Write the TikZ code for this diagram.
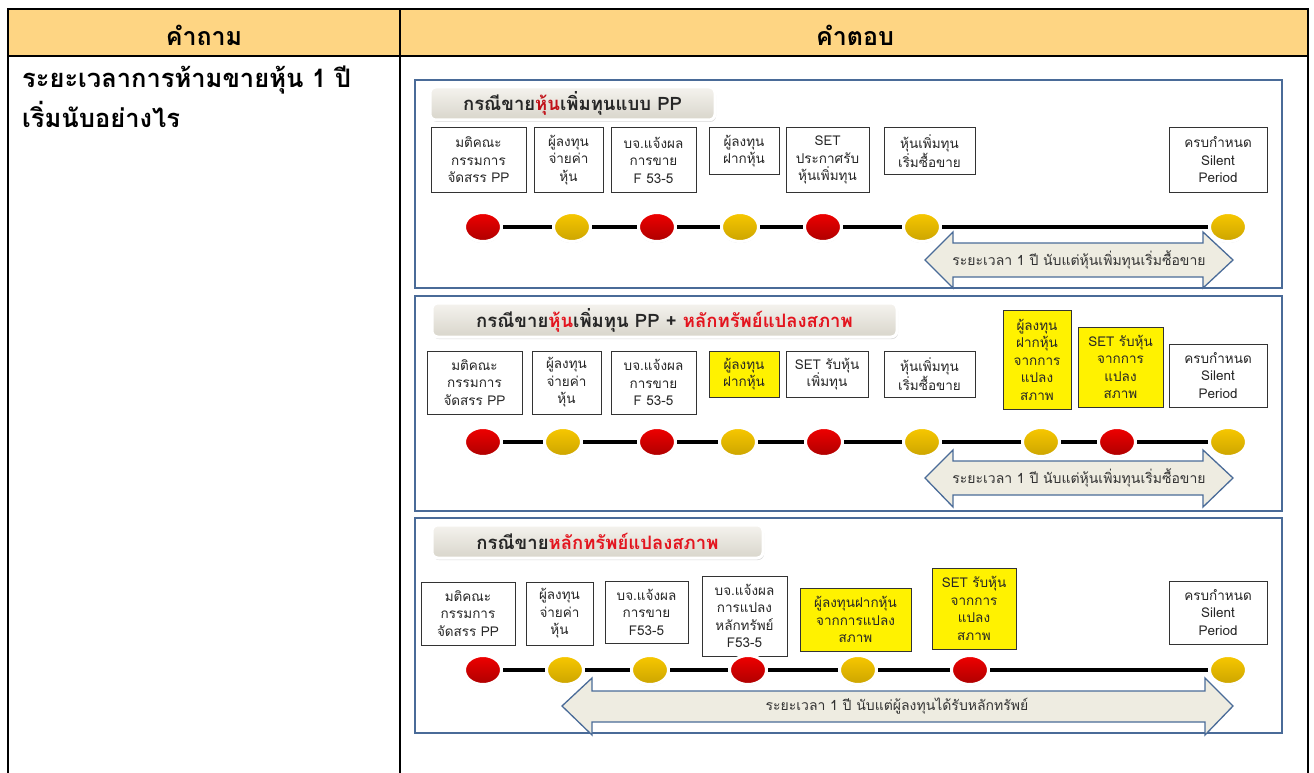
\documentclass[tikz,border=0pt]{standalone}
\usepackage{fontspec}
\setmainfont[Script=Thai]{Loma}
\usetikzlibrary{shapes.geometric,shadows}
\definecolor{hdrfill}{HTML}{FED583}
\definecolor{pnlblue}{HTML}{4A6B98}
\definecolor{ttlred}{HTML}{E3141E}
\definecolor{dotred}{HTML}{F00000}
\definecolor{dotyel}{HTML}{F8C800}
\definecolor{spanfill}{HTML}{EEECE1}
\definecolor{ttltop}{HTML}{F5F3EE}
\definecolor{ttlbot}{HTML}{D8D5CB}
\tikzset{
	tbox/.style={draw=black!80,line width=1pt,fill=white,align=center,inner sep=0pt,text=black!85,font=\fontsize{13.5}{17.5}\selectfont},
	ybox/.style={tbox,fill=yellow},
	tdot/.style={ellipse,minimum width=37,minimum height=29,inner sep=0pt,draw=white,line width=3pt,drop shadow={opacity=0.2,shadow xshift=0pt,shadow yshift=-1.5pt}},
	rdot/.style={tdot,top color=dotred,bottom color=dotred!72!black},
	ydot/.style={tdot,top color=dotyel,bottom color=dotyel!82!black},
	tline/.style={line width=4pt,black},
	ttl/.style={rounded corners=6pt,top color=ttltop,bottom color=ttlbot,draw=white,line width=3pt,drop shadow={opacity=0.3,shadow xshift=1pt,shadow yshift=-2pt},font=\bfseries\fontsize{18.5}{20}\selectfont,text=black!85},
	pnl/.style={draw=pnlblue,line width=2pt},
	sarrow/.style={draw=pnlblue,fill=spanfill,line width=1.3pt,line join=miter},
	stxt/.style={font=\fontsize{14}{16}\selectfont,text=black!80,inner sep=1pt},
	hdr/.style={font=\bfseries\fontsize{25}{28}\selectfont},
	qtxt/.style={anchor=base west,font=\bfseries\fontsize{25.5}{28}\selectfont,inner sep=0pt}
}
\begin{document}
\begin{tikzpicture}[x=1pt,y=-1pt]
	\useasboundingbox (0,0) rectangle (1314,773);
	% table
	\fill[hdrfill] (8,9) rectangle (1308,56);
	\draw[line width=2pt] (8,773) -- (8,9) -- (1308,9) -- (1308,773);
	\draw[line width=2pt] (8,56) -- (1308,56);
	\draw[line width=2pt] (400,9) -- (400,773);
	\node[hdr] (hq) at (204,35) {คำถาม};
	\node[hdr] (ha) at (855,35) {คำตอบ};
	\node[qtxt] (q1) at (22,88) {ระยะเวลาการห้ามขายหุ้น 1 ปี};
	\node[qtxt] (q2) at (22,128) {เริ่มนับอย่างไร};

	% panel 1
	\draw[pnl] (415,80) rectangle (1282,288);
	\node[ttl,minimum width=285,minimum height=33] (t1) at (572.5,103.5) {กรณีขาย\textcolor{ttlred!85!black}{หุ้น}เพิ่มทุนแบบ PP};
	\node[tbox,minimum width=95,minimum height=64] (pa1) at (478.5,160) {มติคณะ\\กรรมการ\\จัดสรร PP};
	\node[tbox,minimum width=69,minimum height=64] (pa2) at (568.5,160) {ผู้ลงทุน\\จ่ายค่า\\หุ้น};
	\node[tbox,minimum width=85,minimum height=64] (pa3) at (653.5,160) {บจ.แจ้งผล\\การขาย\\F 53-5};
	\node[tbox,minimum width=70,minimum height=46] (pa4) at (744,151) {ผู้ลงทุน\\ฝากหุ้น};
	\node[tbox,minimum width=83,minimum height=64] (pa5) at (827.5,160) {SET\\ประกาศรับ\\หุ้นเพิ่มทุน};
	\node[tbox,minimum width=91,minimum height=46] (pa6) at (929.5,151) {หุ้นเพิ่มทุน\\เริ่มซื้อขาย};
	\node[tbox,minimum width=98,minimum height=64] (pa7) at (1218,160) {ครบกำหนด\\Silent\\Period};
	\foreach \n/\x/\s in {1/483/rdot,2/572/ydot,3/657/rdot,4/740/ydot,5/823/rdot,6/922/ydot,7/1228/ydot}
		\node[\s] (da\n) at (\x,227) {};
	\foreach \i [count=\j from 2] in {1,...,6}
		\draw[tline] (da\i) -- (da\j);
	\draw[sarrow] (925,260) -- (953,232) -- (953,243) -- (1203,243) -- (1203,232) -- (1233,260)
		-- (1203,288) -- (1203,277) -- (953,277) -- (953,288) -- cycle;
	\node[stxt] (sa) at (1079,260) {ระยะเวลา 1 ปี นับแต่หุ้นเพิ่มทุนเริ่มซื้อขาย};

	% panel 2
	\draw[pnl] (415,296) rectangle (1282,511);
	\node[ttl,minimum width=465,minimum height=34] (t2) at (664.5,320) {กรณีขาย\textcolor{ttlred}{หุ้น}เพิ่มทุน PP + \textcolor{ttlred}{หลักทรัพย์แปลงสภาพ}};
	\node[tbox,minimum width=95,minimum height=63] (pb1) at (474.5,382.5) {มติคณะ\\กรรมการ\\จัดสรร PP};
	\node[tbox,minimum width=69,minimum height=63] (pb2) at (566.5,382.5) {ผู้ลงทุน\\จ่ายค่า\\หุ้น};
	\node[tbox,minimum width=85,minimum height=63] (pb3) at (653.5,382.5) {บจ.แจ้งผล\\การขาย\\F 53-5};
	\node[ybox,minimum width=70,minimum height=46] (pb4) at (744,374) {ผู้ลงทุน\\ฝากหุ้น};
	\node[tbox,minimum width=82,minimum height=46] (pb5) at (827,374) {SET รับหุ้น\\เพิ่มทุน};
	\node[tbox,minimum width=91,minimum height=46] (pb6) at (929.5,374) {หุ้นเพิ่มทุน\\เริ่มซื้อขาย};
	\node[ybox,minimum width=68,minimum height=99] (pb7) at (1037,359.5) {ผู้ลงทุน\\ฝากหุ้น\\จากการ\\แปลง\\สภาพ};
	\node[ybox,minimum width=85,minimum height=80] (pb8) at (1120.5,367) {SET รับหุ้น\\จากการ\\แปลง\\สภาพ};
	\node[tbox,minimum width=98,minimum height=63] (pb9) at (1218,375.5) {ครบกำหนด\\Silent\\Period};
	\foreach \n/\x/\s in {1/483/rdot,2/563/ydot,3/657/rdot,4/738/ydot,5/824/rdot,6/922/ydot,7/1041/ydot,8/1117/rdot,9/1228/ydot}
		\node[\s] (db\n) at (\x,442) {};
	\foreach \i [count=\j from 2] in {1,...,8}
		\draw[tline] (db\i) -- (db\j);
	\draw[sarrow] (925,478) -- (953,450) -- (953,461) -- (1203,461) -- (1203,450) -- (1233,478)
		-- (1203,507) -- (1203,495) -- (953,495) -- (953,507) -- cycle;
	\node[stxt] (sb) at (1079,478) {ระยะเวลา 1 ปี นับแต่หุ้นเพิ่มทุนเริ่มซื้อขาย};

	% panel 3
	\draw[pnl] (415,518) rectangle (1282,733);
	\node[ttl,minimum width=331,minimum height=33] (t3) at (597.5,541.5) {กรณีขาย\textcolor{ttlred}{หลักทรัพย์แปลงสภาพ}};
	\node[tbox,minimum width=94,minimum height=63] (pc1) at (468,613.5) {มติคณะ\\กรรมการ\\จัดสรร PP};
	\node[tbox,minimum width=67,minimum height=63] (pc2) at (559.5,613.5) {ผู้ลงทุน\\จ่ายค่า\\หุ้น};
	\node[tbox,minimum width=83,minimum height=62] (pc3) at (646.5,612) {บจ.แจ้งผล\\การขาย\\F53-5};
	\node[tbox,minimum width=85,minimum height=80] (pc4) at (744.5,616) {บจ.แจ้งผล\\การแปลง\\หลักทรัพย์\\F53-5};
	\node[ybox,minimum width=111,minimum height=63] (pc5) at (855.5,619.5) {ผู้ลงทุนฝากหุ้น\\จากการแปลง\\สภาพ};
	\node[ybox,minimum width=84,minimum height=81] (pc6) at (974,608.5) {SET รับหุ้น\\จากการ\\แปลง\\สภาพ};
	\node[tbox,minimum width=98,minimum height=63] (pc7) at (1218,612.5) {ครบกำหนด\\Silent\\Period};
	\foreach \n/\x/\s in {1/483/rdot,2/565/ydot,3/650/ydot,4/748/rdot,5/858/ydot,6/970/rdot,7/1228/ydot}
		\node[\s] (dc\n) at (\x,670) {};
	\foreach \i [count=\j from 2] in {1,...,6}
		\draw[tline] (dc\i) -- (dc\j);
	\draw[sarrow] (562,706) -- (592,678) -- (592,691) -- (1205,691) -- (1205,678) -- (1233,706)
		-- (1205,735) -- (1205,722) -- (592,722) -- (592,735) -- cycle;
	\node[stxt] (sc) at (897,706) {ระยะเวลา 1 ปี นับแต่ผู้ลงทุนได้รับหลักทรัพย์};
\end{tikzpicture}
\end{document}
